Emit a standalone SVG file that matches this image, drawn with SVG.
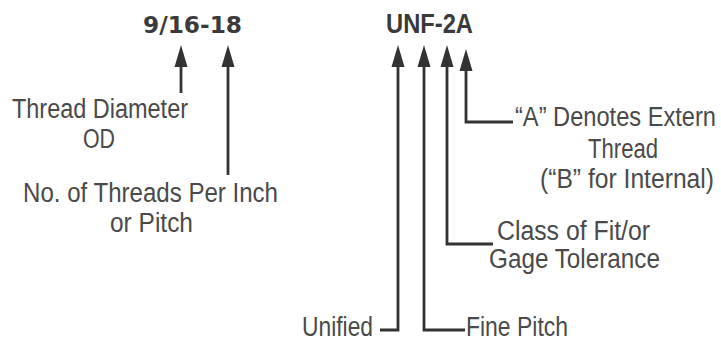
<svg xmlns="http://www.w3.org/2000/svg" width="721" height="339" viewBox="0 0 721 339">
<style>
.title{font-family:"DejaVu Sans",sans-serif;font-weight:bold;font-size:23px;fill:#3a3a3a}
.title2{font-family:"Liberation Sans",Arial,sans-serif;font-weight:bold;font-size:27px;fill:#3a3a3a}
.lbl{font-family:"Liberation Sans",Arial,sans-serif;font-size:27px;fill:#4a4a4a}
.ln{fill:none;stroke:#333;stroke-width:2.8;stroke-linejoin:miter}
</style>
<defs>
<marker id="ah" markerUnits="userSpaceOnUse" markerWidth="24" markerHeight="14" viewBox="0 -7 24 14" refX="0" refY="0" orient="auto">
<path d="M0,-6.5 L22,0 L0,6.5 z" fill="#333"/>
</marker>
</defs>
<rect width="721" height="339" fill="#fff"/>
<g id="title-size"><text class="title" x="143" y="33" textLength="99" lengthAdjust="spacingAndGlyphs">9/16-18</text></g>
<g id="title-series"><text class="title2" x="386" y="33" textLength="87" lengthAdjust="spacingAndGlyphs">UNF-2A</text></g>
<g id="connectors">
<path class="ln" d="M181,93 V67" marker-end="url(#ah)"/>
<path class="ln" d="M228,175 V67" marker-end="url(#ah)"/>
<path class="ln" d="M380,330 H398 V67" marker-end="url(#ah)"/>
<path class="ln" d="M465,330 H424 V67" marker-end="url(#ah)"/>
<path class="ln" d="M493,244 H447 V67" marker-end="url(#ah)"/>
<path class="ln" d="M513,122 H466 V71" marker-end="url(#ah)"/>
</g>
<g id="thread-diameter">
<text class="lbl" x="12" y="118" textLength="176" lengthAdjust="spacingAndGlyphs">Thread Diameter</text>
<text class="lbl" x="83" y="148" textLength="32" lengthAdjust="spacingAndGlyphs">OD</text>
</g>
<g id="threads-per-inch">
<text class="lbl" x="23" y="202" textLength="255" lengthAdjust="spacingAndGlyphs">No. of Threads Per Inch</text>
<text class="lbl" x="110" y="232" textLength="83" lengthAdjust="spacingAndGlyphs">or Pitch</text>
</g>
<g id="external">
<text class="lbl" x="515" y="126" textLength="201" lengthAdjust="spacingAndGlyphs">“A” Denotes Extern</text>
<text class="lbl" x="588" y="158" textLength="70" lengthAdjust="spacingAndGlyphs">Thread</text>
<text class="lbl" x="540" y="188" textLength="174" lengthAdjust="spacingAndGlyphs">(“B” for Internal)</text>
</g>
<g id="class-of-fit">
<text class="lbl" x="497" y="240" textLength="153" lengthAdjust="spacingAndGlyphs">Class of Fit/or</text>
<text class="lbl" x="489" y="268" textLength="171" lengthAdjust="spacingAndGlyphs">Gage Tolerance</text>
</g>
<g id="unified"><text class="lbl" x="302" y="336" textLength="71" lengthAdjust="spacingAndGlyphs">Unified</text></g>
<g id="fine-pitch"><text class="lbl" x="466" y="336" textLength="102" lengthAdjust="spacingAndGlyphs">Fine Pitch</text></g>
</svg>
